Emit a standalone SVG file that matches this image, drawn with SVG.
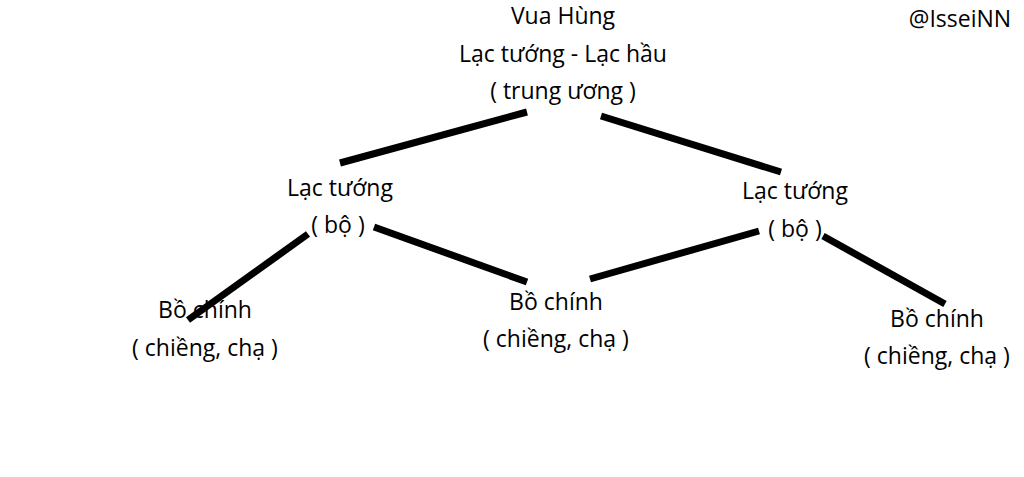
<svg xmlns="http://www.w3.org/2000/svg" width="1024" height="477" viewBox="0 0 1024 477">
<style>
text{font-family:"Open Sans","Noto Sans",sans-serif;font-size:23px;fill:#000;text-anchor:middle}
.c line{stroke:#000;stroke-width:7;stroke-linecap:butt}
</style>
<rect width="1024" height="477" fill="#fff"/>
<g class="c" id="connectors">
<line x1="340" y1="163" x2="527" y2="112"/>
<line x1="601" y1="116" x2="781" y2="172"/>
<line x1="188" y1="320" x2="308" y2="234"/>
<line x1="374" y1="227" x2="527" y2="282"/>
<line x1="590" y1="279" x2="759" y2="231"/>
<line x1="823" y1="236" x2="945" y2="304"/>
</g>
<g id="top"><text x="563" y="24">Vua Hùng</text><text x="563" y="62">Lạc tướng - Lạc hầu</text><text x="563" y="99">( trung ương )</text></g>
<g id="watermark"><text x="960" y="27">@IsseiNN</text></g>
<g id="lt1"><text x="340" y="196">Lạc tướng</text><text x="338" y="233">( bộ )</text></g>
<g id="lt2"><text x="795" y="199">Lạc tướng</text><text x="795" y="237">( bộ )</text></g>
<g id="bc1"><text x="205" y="318">Bồ chính</text><text x="205" y="356">( chiềng, chạ )</text></g>
<g id="bc2"><text x="556" y="310">Bồ chính</text><text x="556" y="347">( chiềng, chạ )</text></g>
<g id="bc3"><text x="937" y="327">Bồ chính</text><text x="937" y="364">( chiềng, chạ )</text></g>
</svg>
